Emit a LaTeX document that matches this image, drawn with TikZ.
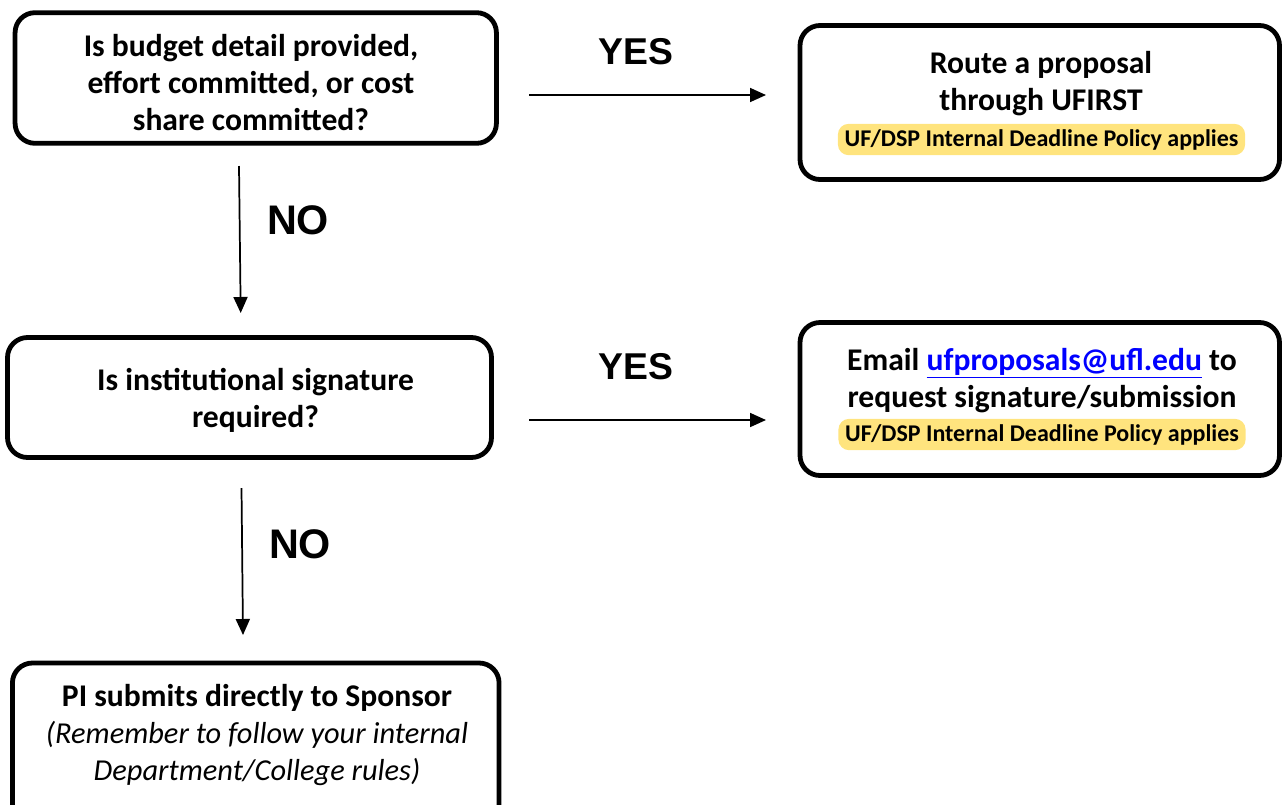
\documentclass[tikz,border=0pt]{standalone}
\usepackage{fontspec}
\setmainfont{Carlito}
\newfontfamily\lblfont{Liberation Sans}
\usetikzlibrary{arrows.meta}
\definecolor{hlyellow}{HTML}{FFE47E}
\definecolor{linkblue}{HTML}{0000FF}
\begin{document}
\begin{tikzpicture}[x=0.75pt,y=-0.75pt,
  box/.style={draw, line width=3.6pt, rounded corners=15pt, inner sep=0pt},
  txt/.style={align=center, inner sep=0pt, font=\bfseries\fontsize{23.7}{27.75}\selectfont},
  hl/.style={fill=hlyellow, rounded corners=8pt, inner xsep=5pt, inner ysep=0pt,
     minimum height=23.5pt, font=\bfseries\fontsize{18}{20}\selectfont},
  arr/.style={-{Triangle[length=12pt,width=10.5pt]}, line width=1.3pt},
  lbl/.style={inner sep=0pt, font=\lblfont\bfseries\fontsize{31}{31}\selectfont},
  ylbl/.style={lbl, font=\lblfont\bfseries\fontsize{28}{28}\selectfont}]
\useasboundingbox (0,0) rectangle (1284,804);

% boxes
\node[box, minimum width=361pt, minimum height=98pt] (b1) at (255.75,78) {};
\node[box, minimum width=359.6pt, minimum height=115.5pt] (b2) at (1039.75,102.5) {};
\node[box, minimum width=363pt, minimum height=90pt] (b3) at (249.5,397.5) {};
\node[box, minimum width=359.6pt, minimum height=114.75pt] (b4) at (1039.75,399) {};
\node[box, minimum width=365pt, minimum height=132.75pt] (b5) at (255.75,751.5) {};

% texts
\node[txt] (t1) at (251,82.5) {Is budget detail provided,\\effort committed, or cost\\share committed?};
\node[txt] (t2) at (1041,83.5) {Route a proposal\\through UFIRST};
\node[hl] (h2) at (1041.5,139.5) {UF/DSP Internal Deadline Policy applies};
\node[txt] (t3) at (255.5,400) {Is institutional signature\\required?};
\node[txt] (t4) at (1042,380.5) {Email \textcolor{linkblue}{\underline{ufproposals@ufl.edu}} to\\request signature/submission};
\node[hl] (h4) at (1042,434.5) {UF/DSP Internal Deadline Policy applies};
\node[txt] (t5) at (257,735) {PI submits directly to Sponsor\\\mdseries\itshape\fontsize{22.8}{27.75}\selectfont (Remember to follow your internal\\\mdseries\itshape\fontsize{22.8}{27.75}\selectfont Department/College rules)};

% labels
\node[ylbl] (y1) at (636,52) {YES};
\node[lbl] (n1) at (298,220) {NO};
\node[ylbl] (y2) at (636,367) {YES};
\node[lbl] (n2) at (300,544) {NO};

% connectors
\coordinate (a1s) at (529,95);
\coordinate (a1e) at (766,95);
\coordinate (a2s) at (529,420);
\coordinate (a2e) at (766,420);
\coordinate (v1s) at (239,166);
\coordinate (v1e) at (240.7,313);
\coordinate (v2s) at (241.5,488);
\coordinate (v2e) at (243,635);
\draw[arr] (a1s) -- (a1e);
\draw[arr] (a2s) -- (a2e);
\draw[arr] (v1s) -- (v1e);
\draw[arr] (v2s) -- (v2e);
\end{tikzpicture}
\end{document}
